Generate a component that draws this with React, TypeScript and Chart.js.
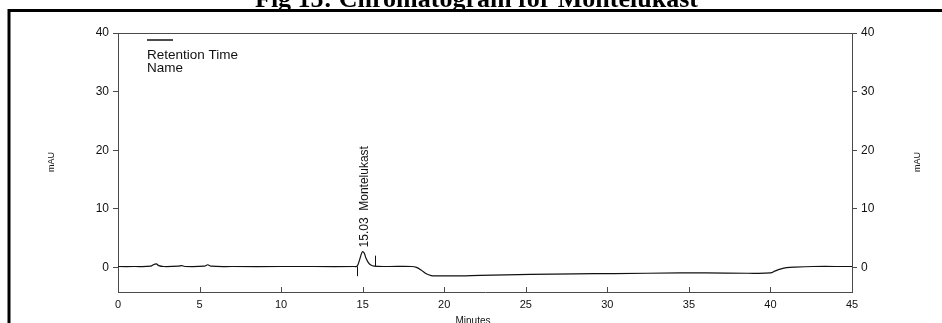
import React, { useEffect, useRef } from 'react';
import { Chart, registerables } from 'chart.js';

Chart.register(...registerables);

// Chromatogram signal (minutes, mAU)
const times = [0, 1.0, 2.0, 2.2, 2.35, 2.5, 2.8, 3.7, 3.9, 4.1, 5.3, 5.5, 5.7, 7, 10, 12, 14.5, 14.66, 14.8, 14.92, 15.0, 15.1, 15.2, 15.35, 15.5, 15.7, 16.5, 18.0, 18.3, 18.6, 18.9, 19.2, 19.5, 21, 22.2, 25.3, 28, 30.4, 34.5, 36, 38.6, 40.0, 40.3, 40.6, 41.0, 41.5, 42.6, 44.7, 45];
const signal = [0.15, 0.15, 0.2, 0.5, 0.6, 0.3, 0.15, 0.2, 0.3, 0.15, 0.2, 0.45, 0.2, 0.15, 0.15, 0.15, 0.15, 0.2, 1.2, 2.3, 2.7, 2.4, 1.6, 0.8, 0.4, 0.2, 0.15, 0.15, 0.0, -0.5, -1.1, -1.4, -1.45, -1.45, -1.35, -1.2, -1.1, -1.05, -0.95, -0.95, -1.0, -0.95, -0.6, -0.3, -0.05, 0.05, 0.15, 0.15, 0.15];

const xTickValues = [0, 5, 10, 15, 20, 25, 30, 35, 40, 45];
const yTickValues = [0, 10, 20, 30, 40];
const yMin = -4.2;
const yMax = 40;

// peak integration markers: [time, from, to]
const peakMarkers = [
  [14.64, 0.15, -1.5],
  [15.77, 2.0, 0.15],
];
const peakTime = 15.03;
const peakName = 'Montelukast';

const titleText = 'Fig 15: Chromatogram for Montelukast';
const legendLines = ['Retention Time', 'Name'];

const AXIS_COLOR = '#4a4a4a';
const TEXT_COLOR = '#111';
const SANS = '"Liberation Sans", Arial, sans-serif';

export default function App() {
  const canvasRef = useRef<HTMLCanvasElement | null>(null);

  useEffect(() => {
    const canvas = canvasRef.current;
    if (!canvas) return;

    const decor = {
      id: 'decor',
      beforeDraw(chart: any) {
        const ctx = chart.ctx;
        ctx.save();
        ctx.fillStyle = '#fff';
        ctx.fillRect(0, 0, chart.width, chart.height);
        ctx.restore();
      },
      afterDraw(chart: any) {
        const ctx = chart.ctx;
        const xs = chart.scales.x;
        const ys = chart.scales.y;
        const area = chart.chartArea;
        ctx.save();

        // title (cut off at top)
        ctx.fillStyle = '#000';
        ctx.font = 'bold 26px "Liberation Serif", "Times New Roman", serif';
        ctx.textAlign = 'left';
        ctx.textBaseline = 'alphabetic';
        ctx.fillText(titleText, 255, 7);

        // frame
        ctx.strokeStyle = '#000';
        ctx.lineWidth = 3;
        ctx.beginPath();
        ctx.moveTo(9, 330);
        ctx.lineTo(9, 10.5);
        ctx.lineTo(942, 10.5);
        ctx.stroke();

        // top border of plot box
        ctx.strokeStyle = AXIS_COLOR;
        ctx.lineWidth = 1;
        ctx.beginPath();
        ctx.moveTo(area.left, Math.round(area.top) + 0.5);
        ctx.lineTo(area.right, Math.round(area.top) + 0.5);
        ctx.stroke();

        // x ticks pointing inward
        ctx.beginPath();
        for (const v of xTickValues) {
          const px = Math.round(xs.getPixelForValue(v)) + 0.5;
          ctx.moveTo(px, area.bottom);
          ctx.lineTo(px, area.bottom - 5);
        }
        ctx.stroke();

        // peak markers
        ctx.strokeStyle = '#111';
        ctx.beginPath();
        for (const [t, a, b] of peakMarkers) {
          const px = Math.round(xs.getPixelForValue(t)) + 0.5;
          ctx.moveTo(px, ys.getPixelForValue(a));
          ctx.lineTo(px, ys.getPixelForValue(b));
        }
        ctx.stroke();

        // peak label, rotated
        ctx.save();
        ctx.translate(xs.getPixelForValue(peakTime) + 5, ys.getPixelForValue(3.4));
        ctx.rotate(-Math.PI / 2);
        ctx.fillStyle = TEXT_COLOR;
        ctx.font = `12px ${SANS}`;
        ctx.textAlign = 'left';
        ctx.textBaseline = 'alphabetic';
        ctx.fillText(peakTime.toFixed(2) + '  ' + peakName, 0, 0);
        ctx.restore();

        // legend
        ctx.strokeStyle = '#111';
        ctx.lineWidth = 1.5;
        ctx.beginPath();
        ctx.moveTo(147, 40);
        ctx.lineTo(173, 40);
        ctx.stroke();
        ctx.fillStyle = TEXT_COLOR;
        ctx.font = `13.5px ${SANS}`;
        ctx.textAlign = 'left';
        ctx.fillText(legendLines[0], 147, 59);
        ctx.fillText(legendLines[1], 147, 72);

        // y axis titles
        ctx.font = `9px ${SANS}`;
        ctx.textAlign = 'center';
        ctx.textBaseline = 'middle';
        for (const cx of [52, 918]) {
          ctx.save();
          ctx.translate(cx, 162);
          ctx.rotate(-Math.PI / 2);
          ctx.fillText('mAU', 0, 0);
          ctx.restore();
        }

        // x axis title (cut off at bottom)
        ctx.font = `10px ${SANS}`;
        ctx.textAlign = 'center';
        ctx.textBaseline = 'top';
        ctx.fillText('Minutes', (area.left + area.right) / 2 - 12, 316);

        ctx.restore();
      },
    };

    const yAxisCommon = {
      type: 'linear' as const,
      min: yMin,
      max: yMax,
      afterBuildTicks: (scale: any) => {
        scale.ticks = yTickValues.map((v) => ({ value: v }));
      },
      grid: {
        drawOnChartArea: false,
        drawTicks: true,
        tickLength: 5,
        color: AXIS_COLOR,
      },
      border: { display: true, color: AXIS_COLOR, width: 1 },
      ticks: {
        font: { size: 12, family: SANS },
        color: TEXT_COLOR,
        padding: 4,
        callback: (v: any) => String(v),
      },
    };

    const chart = new Chart(canvas, {
      type: 'line',
      data: {
        datasets: [
          {
            data: times.map((t, i) => ({ x: t, y: signal[i] })),
            borderColor: '#111',
            borderWidth: 1.2,
            pointRadius: 0,
            tension: 0.35,
            fill: false,
          },
        ],
      },
      options: {
        responsive: false,
        animation: false,
        layout: { padding: { top: 33, left: 0, right: 0, bottom: 0 } },
        plugins: {
          legend: { display: false },
          tooltip: { enabled: false },
          title: { display: false },
        },
        scales: {
          x: {
            type: 'linear',
            min: 0,
            max: 45,
            afterBuildTicks: (scale: any) => {
              scale.ticks = xTickValues.map((v) => ({ value: v }));
            },
            afterFit: (scale: any) => {
              scale.height = 31;
            },
            grid: { drawOnChartArea: false, drawTicks: false },
            border: { display: true, color: AXIS_COLOR, width: 1 },
            ticks: {
              font: { size: 11, family: SANS },
              color: TEXT_COLOR,
              padding: 6,
              maxRotation: 0,
              callback: (v: any) => String(v),
            },
          },
          y: {
            ...yAxisCommon,
            position: 'left',
            afterFit: (scale: any) => {
              scale.width = 118;
            },
          },
          y2: {
            ...yAxisCommon,
            position: 'right',
            afterFit: (scale: any) => {
              scale.width = 90;
            },
          },
        },
      },
      plugins: [decor],
    });

    return () => chart.destroy();
  }, []);

  return (
    <div style={{ position: 'fixed', left: 0, top: 0, width: 942, height: 323, background: '#fff' }}>
      <canvas ref={canvasRef} width={942} height={323} style={{ width: 942, height: 323, display: 'block' }} />
    </div>
  );
}
